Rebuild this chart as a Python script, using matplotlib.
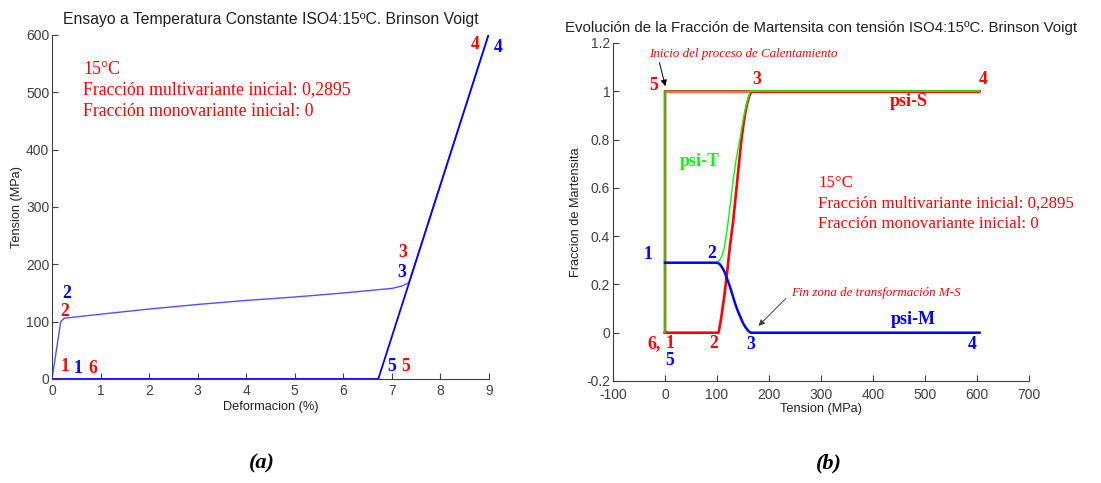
import matplotlib
matplotlib.use('Agg')
import matplotlib.pyplot as plt
from matplotlib.ticker import FuncFormatter

plt.rcParams['axes.unicode_minus'] = False
plt.rcParams['font.family'] = 'Liberation Sans'

# (a) tension-deformacion
load_strain = [0, 0.18, 0.25, 1, 2, 3, 4, 5, 6, 7, 7.2, 7.35, 9.0]
load_stress = [0, 100, 106, 113, 122, 130, 137, 143, 150, 158, 162, 168, 603]
unload_strain = [9.0, 6.72, 0.0]
unload_stress = [603, 0, 0]

# (b) fraccion de martensita
psiS_x = [0, 103, 108, 114, 120, 125, 131, 139, 147, 152, 157, 162, 166, 605, 0, 0]
psiS_y = [0, 0, 0.06, 0.15, 0.26, 0.36, 0.46, 0.63, 0.80, 0.88, 0.94, 0.98, 1, 1, 1, 0]
psiT_x = [0, 100, 105, 110, 114, 119, 125, 131, 137, 144, 150, 155, 160, 164, 605, 0, 0]
psiT_y = [0.29, 0.29, 0.30, 0.32, 0.35, 0.42, 0.52, 0.63, 0.72, 0.80, 0.88, 0.93, 0.97, 1, 1, 1, 0]
psiM_x = [0, 100, 105, 110, 115, 120, 125, 130, 135, 140, 145, 150, 155, 160, 165, 605]
psiM_y = [0.29, 0.29, 0.285, 0.27, 0.25, 0.22, 0.19, 0.155, 0.12, 0.09, 0.065, 0.04, 0.022, 0.008, 0, 0]

info = ['15\u00b0C', 'Fracci\u00f3n multivariante inicial: 0,2895', 'Fracci\u00f3n monovariante inicial: 0']

fig = plt.figure(figsize=(11.01, 4.83), dpi=100)
ax1 = fig.add_axes([52/1101, 104/483, 437/1101, 344/483])
ax2 = fig.add_axes([613/1101, 102/483, 416/1101, 338/483])

gray = '#404040'
for ax in (ax1, ax2):
    ax.spines['top'].set_visible(False)
    ax.spines['right'].set_visible(False)
    for s in ('left', 'bottom'):
        ax.spines[s].set_color(gray)
        ax.spines[s].set_linewidth(0.8)
    ax.tick_params(direction='in', length=4, width=0.8, color=gray, labelcolor=gray, labelsize=10, pad=2)
ax1.tick_params(axis='x', pad=3.5)
ax2.tick_params(axis='x', pad=5)

serif = 'Liberation Serif'
fs_txt = 12.8

ax1.plot(load_strain, load_stress, color='#5050ff', lw=1)
ax1.plot(unload_strain, unload_stress, color='#0000ff', lw=1.3)
ax1.set_xlim(0, 9)
ax1.set_ylim(0, 600)
ax1.set_xticks(range(0, 10))
ax1.set_yticks(range(0, 601, 100))
ax1.set_xlabel('Deformacion (%)', fontsize=9.2, color='#202020', labelpad=2)
ax1.set_ylabel('Tension (MPa)', fontsize=9.2, color='#202020', labelpad=2)
ax1.set_title('Ensayo a Temperatura Constante ISO4:15\u00baC. Brinson Voigt', fontsize=11.3, color='#202020', pad=8)

for t, yy in zip(info, [539, 504, 466]):
    ax1.text(0.64, yy, t, family=serif, fontsize=fs_txt, color='red', va='center')

lab1 = [('4', 8.71, 583, 'red'), ('4', 9.19, 579, 'blue'), ('3', 7.23, 220, 'red'), ('3', 7.21, 185, 'blue'),
        ('2', 0.31, 150, 'blue'), ('2', 0.27, 117, 'red'), ('1', 0.27, 21, 'red'), ('1', 0.54, 19, 'blue'),
        ('6', 0.84, 19, 'red'), ('5', 7.0, 21, 'blue'), ('5', 7.29, 21, 'red')]
for s, x, y, c in lab1:
    ax1.text(x, y, s, family=serif, fontsize=fs_txt, weight='bold', color=c, ha='center', va='center', clip_on=False)

ax2.plot(psiS_x, psiS_y, color='red', lw=1.9)
ax2.plot(psiT_x, psiT_y, color='#00ff00', lw=1)
ax2.plot(psiM_x, psiM_y, color='blue', lw=1.8)
ax2.set_xlim(-100, 700)
ax2.set_ylim(-0.2, 1.2)
ax2.set_xticks(range(-100, 701, 100))
ax2.set_yticks([-0.2, 0, 0.2, 0.4, 0.6, 0.8, 1, 1.2])
ax2.yaxis.set_major_formatter(FuncFormatter(lambda v, p: '%g' % round(v, 2)))
ax2.set_xlabel('Tension (MPa)', fontsize=9.2, color='#202020', labelpad=1)
ax2.set_ylabel('Fraccion de Martensita', fontsize=9.2, color='#202020', labelpad=3)
ax2.set_title('Evoluci\u00f3n de la Fracci\u00f3n de Martensita con tensi\u00f3n ISO4:15\u00baC. Brinson Voigt',
              fontsize=10.8, color='#202020', pad=8)

for t, yy in zip(info, [0.619, 0.536, 0.45]):
    ax2.text(295, yy, t, family=serif, fontsize=12.2, color='red', va='center')

lab2 = [('5', -22.5, 1.026, 'red', fs_txt), ('3', 176, 1.047, 'red', fs_txt), ('4', 612, 1.047, 'red', fs_txt),
        ('psi-S', 468, 0.957, 'red', 13), ('psi-T', 67, 0.708, '#00ff00', 13), ('1', -32, 0.322, 'blue', fs_txt),
        ('2', 89.8, 0.329, 'blue', fs_txt), ('6,', -20.5, -0.044, 'red', fs_txt), ('1', 9.6, -0.044, 'red', fs_txt),
        ('2', 94, -0.044, 'red', fs_txt), ('3', 164.8, -0.047, 'blue', fs_txt), ('4', 591, -0.047, 'blue', fs_txt),
        ('5', 9.6, -0.117, 'blue', fs_txt), ('psi-M', 477.5, 0.055, 'blue', 13)]
for s, x, y, c, fs in lab2:
    ax2.text(x, y, s, family=serif, fontsize=fs, weight='bold', color=c, ha='center', va='center')

ax2.text(-31, 1.154, 'Inicio del proceso de Calentamiento', family=serif, style='italic', fontsize=9.4,
         color='red', va='center')
ax2.annotate('', xy=(2, 1.01), xytext=(-12, 1.13),
             arrowprops=dict(arrowstyle='-|>', color='black', lw=0.7, mutation_scale=9))
ax2.text(243, 0.164, 'Fin zona de transformaci\u00f3n M-S', family=serif, style='italic', fontsize=9.4,
         color='red', va='center')
ax2.annotate('', xy=(176, 0.02), xytext=(236, 0.15),
             arrowprops=dict(arrowstyle='-|>', color='#404040', lw=0.7, mutation_scale=9))

fig.text(262/1101, 1 - 463/483, '(a)', family=serif, fontsize=16, weight='bold', style='italic',
         ha='center', va='center')
fig.text(829/1101, 1 - 463/483, '(b)', family=serif, fontsize=16, weight='bold', style='italic',
         ha='center', va='center')

fig.savefig('out.png', dpi=100)
